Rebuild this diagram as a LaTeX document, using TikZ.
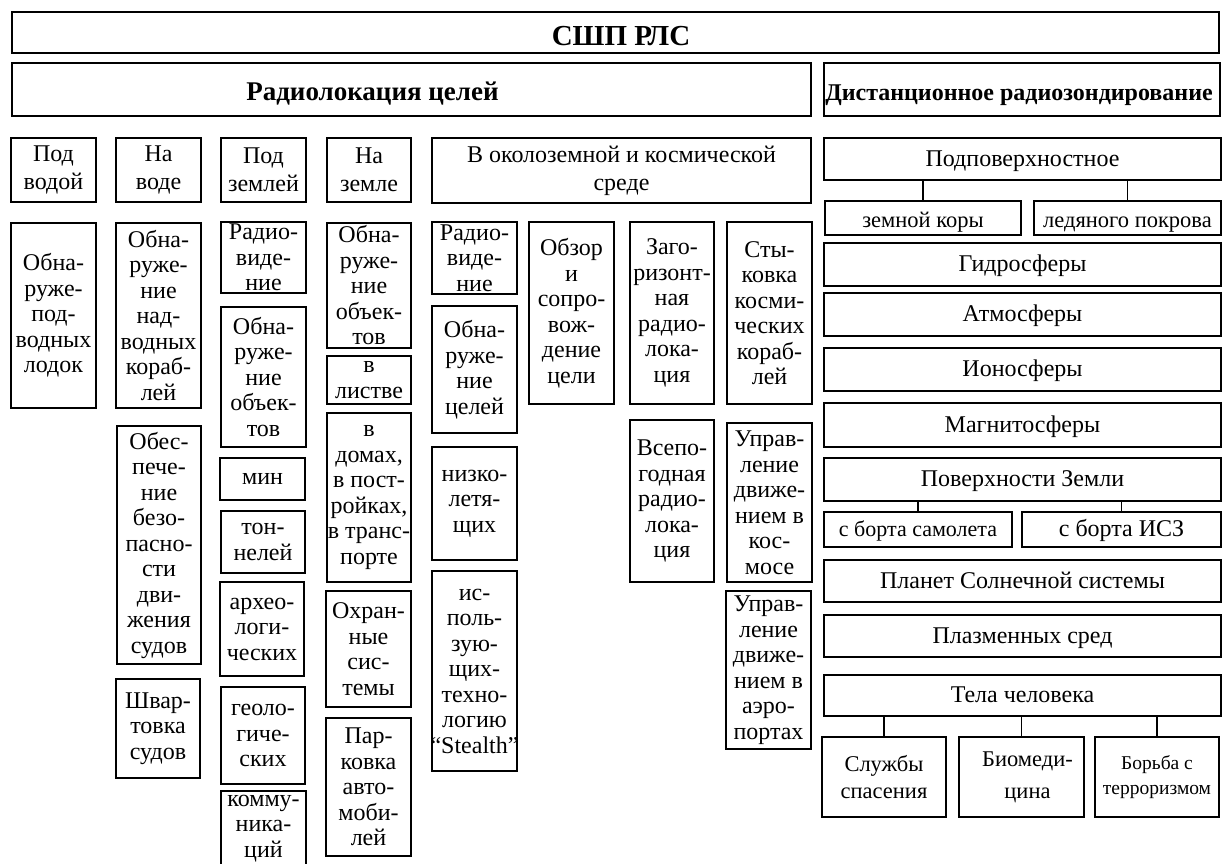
\documentclass[tikz,border=0pt]{standalone}
\usepackage{fontspec}
\setmainfont{Liberation Serif}
\newcommand\fm{\fontsize{24}{25.5}\selectfont}
\newcommand\fcat{\fontsize{24}{28}\selectfont}
\newcommand\fr{\fontsize{24}{28}\selectfont}
\newcommand\fsm{\fontsize{22.5}{26}\selectfont}
\newcommand\fsa{\fontsize{22}{26}\selectfont}
\newcommand\fsp{\fontsize{22.5}{27}\selectfont}
\newcommand\fbm{\fontsize{22.5}{32}\selectfont}
\newcommand\fxs{\fontsize{19.5}{25}\selectfont}
\newcommand\fhd{\fontsize{24}{28}\selectfont\bfseries}
\newcommand\fhr{\fontsize{27}{30}\selectfont\bfseries}
\newcommand\ftop{\fontsize{29}{32}\selectfont\bfseries}
\tikzset{
  box/.style={draw, line width=1.4pt, inner sep=0pt, align=center, font=\fm},
  line1/.style={text height=17pt, text depth=3pt},
  lowline/.style={text height=19pt, text depth=0pt},
  hdline/.style={text height=21pt, text depth=0pt},
  topline/.style={text height=25pt, text depth=0pt},
  conn/.style={line width=1.1pt}
}
% [opts]{name}{x1}{y1}{x2}{y2}{text}
\newcommand\bx[7][]{\node[box,#1,minimum width={#5-#3},minimum height={#6-#4}] (#2) at ({(#3+#5)/2},{(#4+#6)/2}) {#7};}
\begin{document}
\begin{tikzpicture}[x=1pt,y=-1pt]
\useasboundingbox (0,0) rectangle (1225,863);
\bx[font=\ftop,topline]{top}{12}{12}{1219}{53}{\hspace*{11pt}СШП РЛС}
\bx[font=\fhr,hdline]{rl}{12}{63}{811}{116}{\hspace*{-78pt}Радиолокация целей}
\bx[font=\fhd,hdline]{dr}{824}{63}{1220}{116}{\hspace*{-6pt}Дистанционное радиозондирование}
% categories
\bx[font=\fcat]{c1}{11}{138}{96}{202}{Под\\водой}
\bx[font=\fcat]{c2}{116}{138}{201}{202}{На\\воде}
\bx[font=\fcat]{c3}{221}{138}{306}{202}{Под\\землей}
\bx[font=\fcat]{c4}{327}{138}{411}{202}{На\\земле}
\bx[font=\fcat]{c5}{432}{138}{811}{203}{В околоземной и космической\\среде}
% column 1
\bx{a1}{11}{223}{96}{408}{Обна-\\руже-\\под-\\водных\\лодок}
% column 2
\bx{b1}{116}{223}{201}{408}{Обна-\\руже-\\ние\\над-\\водных\\кораб-\\лей}
\bx{b2}{117}{426}{201}{664}{Обес-\\пече-\\ние\\безо-\\пасно-\\сти\\дви-\\жения\\судов}
\bx{b3}{116}{679}{200}{778}{Швар-\\товка\\судов}
% column 3
\bx{d1}{221}{222}{306}{293}{Радио-\\виде-\\ние}
\bx{d2}{221}{307}{306}{447}{Обна-\\руже-\\ние\\объек-\\тов}
\bx{d3}{220}{458}{305}{500}{мин}
\bx{d4}{221}{511}{305}{573}{тон-\\нелей}
\bx{d5}{220}{582}{304}{676}{архео-\\логи-\\ческих}
\bx{d6}{221}{687}{305}{784}{геоло-\\гиче-\\ских}
\bx{d7}{221}{791}{306}{866}{комму-\\ника-\\ций}
% column 4
\bx{e1}{327}{223}{411}{348}{Обна-\\руже-\\ние\\объек-\\тов}
\bx{e2}{327}{356}{411}{404}{в\\листве}
\bx{e3}{327}{413}{411}{582}{в\\домах,\\в пост-\\ройках,\\в транс-\\порте}
\bx{e4}{326}{591}{411}{707}{Охран-\\ные\\сис-\\темы}
\bx{e5}{326}{718}{411}{856}{Пар-\\ковка\\авто-\\моби-\\лей}
% column 5
\bx{f1}{432}{222}{517}{294}{Радио-\\виде-\\ние}
\bx{f2}{432}{306}{517}{433}{Обна-\\руже-\\ние\\целей}
\bx{f3}{432}{447}{517}{560}{низко-\\летя-\\щих}
\bx{f4}{432}{571}{517}{771}{ис-\\поль-\\зую-\\щих-\\техно-\\логию\\\makebox[78pt]{“Stealth”}}
\bx{g1}{529}{222}{614}{404}{Обзор\\и\\сопро-\\вож-\\дение\\цели}
\bx{h1}{630}{222}{714}{404}{Заго-\\ризонт-\\ная\\радио-\\лока-\\ция}
\bx{h2}{630}{420}{714}{582}{Всепо-\\годная\\радио-\\лока-\\ция}
\bx{i1}{727}{222}{812}{404}{Сты-\\ковка\\косми-\\ческих\\кораб-\\лей}
\bx{i2}{727}{423}{812}{582}{Управ-\\ление\\движе-\\нием в\\кос-\\мосе}
\bx{i3}{726}{591}{811}{749}{Управ-\\ление\\движе-\\нием в\\аэро-\\портах}
% right column
\bx[font=\fr,line1]{r1}{824}{138}{1221}{180}{Подповерхностное}
\bx[font=\fsm,lowline]{r1a}{825}{201}{1021}{235}{земной коры}
\bx[font=\fsm,lowline]{r1b}{1034}{201}{1221}{235}{ледяного покрова}
\bx[font=\fr,line1]{r2}{824}{243}{1221}{286}{Гидросферы}
\bx[font=\fr,line1]{r3}{824}{293}{1221}{336}{Атмосферы}
\bx[font=\fr,line1]{r4}{824}{348}{1221}{391}{Ионосферы}
\bx[font=\fr,line1]{r5}{824}{403}{1221}{447}{Магнитосферы}
\bx[font=\fr,line1]{r6}{824}{458}{1221}{501}{Поверхности Земли}
\bx[font=\fsa,line1]{r6a}{824}{512}{1012}{547}{с борта самолета}
\bx[font=\fr,line1]{r6b}{1022}{512}{1221}{547}{с борта ИСЗ}
\bx[font=\fr,line1]{r7}{824}{560}{1221}{602}{Планет Солнечной системы}
\bx[font=\fr,line1]{r8}{824}{615}{1221}{657}{Плазменных сред}
\bx[font=\fr,line1]{r9}{824}{675}{1221}{716}{Тела человека}
\bx[font=\fsp]{r9a}{822}{737}{946}{817}{Службы\\спасения}
\bx[font=\fbm]{r9b}{959}{737}{1084}{817}{\hspace*{12pt}Биомеди-\\\hspace*{12pt}цина}
\bx[font=\fxs]{r9c}{1095}{737}{1219}{817}{Борьба с\\терроризмом}
% connectors
\draw[conn] (r1a.north) -- (r1a.north |- r1.south);
\draw[conn] (r1b.north) -- (r1b.north |- r1.south);
\draw[conn] (r6a.north) -- (r6a.north |- r6.south);
\draw[conn] (r6b.north) -- (r6b.north |- r6.south);
\draw[conn] (r9a.north) -- (r9a.north |- r9.south);
\draw[conn] (r9b.north) -- (r9b.north |- r9.south);
\draw[conn] (r9c.north) -- (r9c.north |- r9.south);
\end{tikzpicture}
\end{document}
